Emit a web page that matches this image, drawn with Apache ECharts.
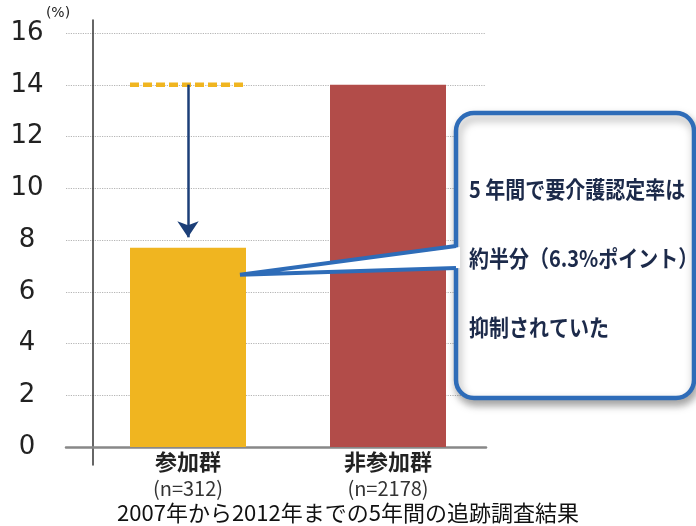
<!DOCTYPE html>
<html>
<head>
<meta charset="utf-8">
<script src="https://cdn.jsdelivr.net/npm/echarts@6/dist/echarts.min.js"></script>
<style>
  html, body { margin: 0; padding: 0; background: #fff; }
  #chart { width: 696px; height: 526px; }
</style>
</head>
<body>
<div id="chart"></div>
<script>
// data
const groups = ['参加群', '非参加群'];
const sampleSizes = ['(n=312)', '(n=2178)'];
const rates = [7.7, 14.0];
const barColors = ['#f0b520', '#b24c49'];
const referenceRate = 14.0;   // non-participant level drawn over the participant bar
const arrowEnd = 8.1;
const calloutLines = ['5 年間で要介護認定率は', '約半分（6.3%ポイント）', '抑制されていた'];
const calloutTipValue = 6.65;

const chart = echarts.init(document.getElementById('chart'));

const option = {
  animation: false,
  title: {
    text: '2007年から2012年までの5年間の追跡調査結果',
    left: 'center',
    top: 497,
    textStyle: { fontFamily: 'Noto Sans CJK JP', fontSize: 22, fontWeight: 'normal', color: '#111' },
  },
  grid: [
    // grid 0: gridlines, tick labels, baseline
    { left: 66, right: 210, top: 33, bottom: 79 },
    // grid 1: bars, extended so the vertical axis line overshoots like the original
    { left: 88, right: 208, top: 20, bottom: 61 },
  ],
  xAxis: [
    {
      gridIndex: 0,
      type: 'category',
      data: groups,
      axisLine: { lineStyle: { color: '#888', width: 2.5 } },
      axisTick: { show: false },
      axisLabel: { show: false },
    },
    {
      gridIndex: 1,
      type: 'category',
      data: groups,
      axisLine: { show: false },
      axisTick: { show: false },
      axisLabel: {
        margin: -15,
        formatter: (v, i) => `{g|${v}}\n{n|${sampleSizes[i]}}`,
        rich: {
          g: { fontFamily: 'Noto Sans CJK JP', fontSize: 22, fontWeight: 'bold', color: '#222', lineHeight: 24 },
          n: { fontFamily: 'Noto Sans CJK JP', fontSize: 20, color: '#333', lineHeight: 28 },
        },
      },
    },
  ],
  yAxis: [
    {
      gridIndex: 0,
      type: 'value',
      min: 0,
      max: 16,
      interval: 2,
      name: '(%)',
      nameLocation: 'end',
      nameGap: 6,
      nameTextStyle: { fontFamily: 'DejaVu Sans', fontSize: 14, color: '#222', align: 'center', verticalAlign: 'middle', padding: [0, 16, 0, 0] },
      axisLine: { show: false },
      axisTick: { show: false },
      axisLabel: { fontFamily: 'DejaVu Sans', fontSize: 26, color: '#222', align: 'center', margin: 39 },
      splitLine: { lineStyle: { color: '#b5b5b5', type: 'dotted', width: 1.2 } },
    },
    {
      gridIndex: 1,
      type: 'value',
      min: -0.7,
      max: 16.5,
      offset: -5,
      axisLine: { show: true, lineStyle: { color: '#333', width: 1.5 } },
      axisTick: { show: false },
      axisLabel: { show: false },
      splitLine: { show: false },
    },
  ],
  series: [
    {
      type: 'bar',
      xAxisIndex: 1,
      yAxisIndex: 1,
      barWidth: '58%',
      data: rates.map((v, i) => ({ value: v, itemStyle: { color: barColors[i] } })),
      markLine: {
        silent: true,
        symbol: ['none', 'arrow'],
        symbolSize: 16,
        label: { show: false },
        lineStyle: { color: '#1c3f78', width: 2.5, type: 'solid' },
        data: [[{ coord: [0, referenceRate] }, { coord: [0, arrowEnd] }]],
      },
    },
    {
      type: 'custom',
      xAxisIndex: 1,
      yAxisIndex: 1,
      data: [[0, referenceRate]],
      renderItem: (params, api) => {
        const pt = api.coord([api.value(0), api.value(1)]);
        const half = api.size([1, 0])[0] * 0.58 / 2;
        return {
          type: 'line',
          shape: { x1: pt[0] - half, y1: pt[1], x2: pt[0] + half, y2: pt[1] },
          style: { stroke: '#f0b520', lineWidth: 4.5, lineDash: [9, 4] },
        };
      },
    },
  ],
};

chart.setOption(option);

// callout box pointing at the participant bar
const tip = chart.convertToPixel({ xAxisIndex: 1, yAxisIndex: 1 }, [0, calloutTipValue]);
const tipX = tip[0] + 52;
const tipY = tip[1];
const boxX = 456, boxY = 113, boxW = 238, boxH = 285;
const blue = '#2e6cb8';

chart.setOption({
  graphic: [
    {
      type: 'rect',
      shape: { x: boxX, y: boxY, width: boxW, height: boxH, r: 18 },
      style: { fill: '#fff', stroke: blue, lineWidth: 4.5, shadowBlur: 8, shadowOffsetX: 2, shadowOffsetY: 5, shadowColor: 'rgba(0,0,0,0.35)' },
      z: 10,
    },
    {
      type: 'polygon',
      shape: { points: [[tipX, tipY], [boxX + 4, 247], [boxX + 4, 268]] },
      style: { fill: '#fff' },
      z: 11,
    },
    {
      type: 'polyline',
      shape: { points: [[boxX, 246], [tipX, tipY], [boxX, 268]] },
      style: { stroke: blue, lineWidth: 4, fill: null },
      z: 12,
    },
    {
      type: 'text',
      x: 469,
      y: 155,
      scaleY: 1.15,
      originX: 0,
      originY: 0,
      style: {
        text: calloutLines.join('\n'),
        fontFamily: 'Noto Sans CJK JP',
        fontSize: 20,
        fontWeight: 'bold',
        lineHeight: 60,
        fill: '#1c2a4a',
        verticalAlign: 'top',
      },
      z: 13,
    },
  ],
});
</script>
</body>
</html>
